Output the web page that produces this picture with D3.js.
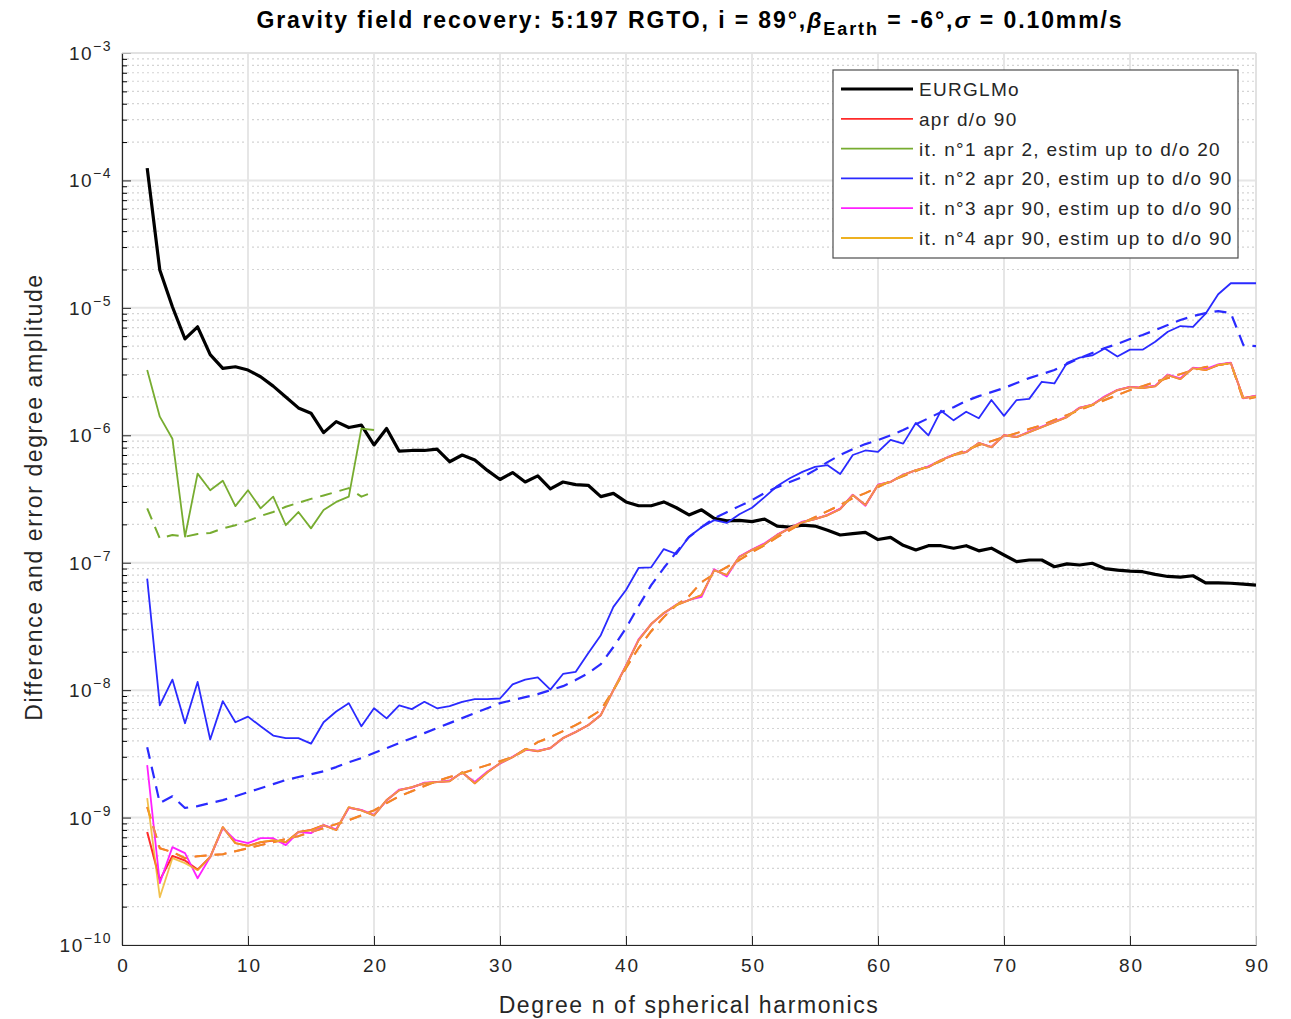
<!DOCTYPE html>
<html>
<head>
<meta charset="utf-8">
<script src="https://cdn.jsdelivr.net/npm/d3@7"></script>
<style>
  body { margin: 0; background: #fff; }
  text { font-family: "Liberation Sans", Arial, sans-serif; }
</style>
</head>
<body>
<div id="chart"></div>
<script>
// spherical harmonic degrees 2..90
const degrees = d3.range(2, 91);

// EURGLMo difference degree amplitude
const eurglmo = [1.25e-4, 1.98e-5, 1.02e-5, 5.7e-6, 7.1e-6, 4.3e-6, 3.35e-6, 3.45e-6, 3.25e-6, 2.88e-6,
  2.43e-6, 2.0e-6, 1.64e-6, 1.49e-6, 1.05e-6, 1.28e-6, 1.15e-6, 1.2e-6, 8.4e-7, 1.13e-6,
  7.5e-7, 7.6e-7, 7.6e-7, 7.8e-7, 6.2e-7, 7.0e-7, 6.4e-7, 5.3e-7, 4.5e-7, 5.1e-7,
  4.3e-7, 4.8e-7, 3.8e-7, 4.3e-7, 4.1e-7, 4.05e-7, 3.3e-7, 3.5e-7, 3.0e-7, 2.8e-7,
  2.8e-7, 3.0e-7, 2.7e-7, 2.37e-7, 2.6e-7, 2.23e-7, 2.13e-7, 2.15e-7, 2.1e-7, 2.2e-7,
  1.94e-7, 1.9e-7, 1.97e-7, 1.94e-7, 1.8e-7, 1.65e-7, 1.69e-7, 1.73e-7, 1.52e-7, 1.58e-7,
  1.37e-7, 1.26e-7, 1.36e-7, 1.36e-7, 1.3e-7, 1.36e-7, 1.24e-7, 1.3e-7, 1.15e-7, 1.02e-7,
  1.05e-7, 1.05e-7, 9.3e-8, 9.8e-8, 9.6e-8, 9.9e-8, 9.0e-8, 8.75e-8, 8.6e-8, 8.5e-8,
  8.1e-8, 7.8e-8, 7.7e-8, 7.9e-8, 6.95e-8, 6.95e-8, 6.9e-8, 6.8e-8, 6.67e-8];

// it. n°1 (degrees 2..20): difference and formal error
const it1Diff = [3.25e-6, 1.4e-6, 9.4e-7, 1.6e-7, 5.0e-7, 3.7e-7, 4.4e-7, 2.78e-7, 3.7e-7, 2.67e-7,
  3.3e-7, 1.97e-7, 2.5e-7, 1.86e-7, 2.59e-7, 3.0e-7, 3.3e-7, 1.13e-6, 1.1e-6];
const it1Err = [2.67e-7, 1.55e-7, 1.65e-7, 1.6e-7, 1.68e-7, 1.71e-7, 1.86e-7, 1.97e-7, 2.13e-7, 2.33e-7,
  2.5e-7, 2.75e-7, 2.95e-7, 3.17e-7, 3.37e-7, 3.6e-7, 3.85e-7, 3.3e-7, 3.6e-7];

// it. n°2
const it2Diff = [7.5e-8, 7.6e-9, 1.21e-8, 5.5e-9, 1.16e-8, 4.1e-9, 8.2e-9, 5.6e-9, 6.2e-9, 5.2e-9,
  4.4e-9, 4.2e-9, 4.2e-9, 3.8e-9, 5.6e-9, 6.8e-9, 7.9e-9, 5.2e-9, 7.2e-9, 6.0e-9,
  7.6e-9, 7.1e-9, 8.1e-9, 7.2e-9, 7.5e-9, 8.1e-9, 8.5e-9, 8.5e-9, 8.6e-9, 1.11e-8,
  1.21e-8, 1.26e-8, 1.01e-8, 1.34e-8, 1.39e-8, 1.95e-8, 2.7e-8, 4.5e-8, 6.1e-8, 9.1e-8,
  9.2e-8, 1.28e-7, 1.17e-7, 1.6e-7, 1.9e-7, 2.16e-7, 2.05e-7, 2.4e-7, 2.7e-7, 3.27e-7,
  4.0e-7, 4.6e-7, 5.16e-7, 5.65e-7, 5.83e-7, 4.96e-7, 7.0e-7, 7.6e-7, 7.4e-7, 9.2e-7,
  8.6e-7, 1.25e-6, 1.0e-6, 1.56e-6, 1.31e-6, 1.53e-6, 1.36e-6, 1.89e-6, 1.42e-6, 1.89e-6,
  1.93e-6, 2.63e-6, 2.55e-6, 3.7e-6, 4.07e-6, 4.23e-6, 4.8e-6, 4.15e-6, 4.7e-6, 4.7e-6,
  5.42e-6, 6.5e-6, 7.2e-6, 7.1e-6, 9.0e-6, 1.28e-5, 1.56e-5, 1.56e-5, 1.56e-5];
const it2Err = [3.57e-9, 1.3e-9, 1.47e-9, 1.19e-9, 1.23e-9, 1.3e-9, 1.37e-9, 1.47e-9, 1.58e-9, 1.7e-9,
  1.83e-9, 1.97e-9, 2.08e-9, 2.19e-9, 2.31e-9, 2.49e-9, 2.72e-9, 2.93e-9, 3.21e-9, 3.51e-9,
  3.84e-9, 4.2e-9, 4.6e-9, 5.03e-9, 5.51e-9, 6.03e-9, 6.6e-9, 7.22e-9, 7.91e-9, 8.35e-9,
  8.81e-9, 9.31e-9, 1.0e-8, 1.075e-8, 1.2e-8, 1.36e-8, 1.6e-8, 2.18e-8, 3.07e-8, 4.57e-8,
  6.67e-8, 9.08e-8, 1.21e-7, 1.59e-7, 1.9e-7, 2.24e-7, 2.49e-7, 2.78e-7, 3.1e-7, 3.52e-7,
  3.92e-7, 4.3e-7, 4.7e-7, 5.33e-7, 6.16e-7, 7.0e-7, 7.8e-7, 8.53e-7, 9.17e-7, 1.0e-6,
  1.1e-6, 1.22e-6, 1.36e-6, 1.52e-6, 1.66e-6, 1.86e-6, 2.03e-6, 2.18e-6, 2.35e-6, 2.57e-6,
  2.81e-6, 3.02e-6, 3.25e-6, 3.62e-6, 4.04e-6, 4.42e-6, 4.84e-6, 5.2e-6, 5.69e-6, 6.12e-6,
  6.7e-6, 7.33e-6, 8.02e-6, 8.63e-6, 9.1e-6, 9.44e-6, 9.1e-6, 5.1e-6, 5.0e-6];

// it. n°4 (and a priori d/o 90, nearly identical)
const it4Diff = [1.42e-9, 2.37e-10, 4.8e-10, 4.39e-10, 3.87e-10, 4.89e-10, 8.41e-10, 6.3e-10, 5.97e-10, 6.41e-10,
  6.65e-10, 6.41e-10, 7.69e-10, 7.97e-10, 8.71e-10, 7.97e-10, 1.21e-9, 1.14e-9, 1.04e-9, 1.37e-9,
  1.64e-9, 1.73e-9, 1.86e-9, 1.9e-9, 1.93e-9, 2.27e-9, 1.86e-9, 2.27e-9, 2.67e-9, 2.98e-9,
  3.44e-9, 3.32e-9, 3.51e-9, 4.2e-9, 4.69e-9, 5.31e-9, 6.37e-9, 1.0e-8, 1.55e-8, 2.47e-8,
  3.3e-8, 4.03e-8, 4.65e-8, 5.09e-8, 5.57e-8, 8.75e-8, 8.0e-8, 1.11e-7, 1.26e-7, 1.4e-7,
  1.65e-7, 1.87e-7, 2.08e-7, 2.2e-7, 2.36e-7, 2.64e-7, 3.4e-7, 2.83e-7, 4.07e-7, 4.3e-7,
  4.88e-7, 5.33e-7, 5.63e-7, 6.39e-7, 7.0e-7, 7.38e-7, 8.69e-7, 8.07e-7, 1.0e-6, 9.68e-7,
  1.06e-6, 1.16e-6, 1.27e-6, 1.39e-6, 1.64e-6, 1.73e-6, 2.0e-6, 2.26e-6, 2.39e-6, 2.35e-6,
  2.43e-6, 2.97e-6, 2.76e-6, 3.37e-6, 3.25e-6, 3.56e-6, 3.69e-6, 1.96e-6, 2.03e-6];
const it4Err = [1.21e-9, 5.75e-10, 5.36e-10, 4.8e-10, 4.98e-10, 5.07e-10, 5.16e-10, 5.45e-10, 5.75e-10, 6.08e-10,
  6.41e-10, 6.78e-10, 7.15e-10, 7.69e-10, 8.26e-10, 8.88e-10, 9.55e-10, 1.04e-9, 1.14e-9, 1.3e-9,
  1.47e-9, 1.61e-9, 1.77e-9, 1.93e-9, 2.08e-9, 2.23e-9, 2.4e-9, 2.58e-9, 2.77e-9, 2.98e-9,
  3.38e-9, 3.91e-9, 4.28e-9, 4.77e-9, 5.31e-9, 6.03e-9, 6.97e-9, 1.0e-8, 1.49e-8, 2.14e-8,
  2.9e-8, 3.74e-8, 4.65e-8, 5.47e-8, 7.05e-8, 8.15e-8, 9.24e-8, 1.05e-7, 1.21e-7, 1.37e-7,
  1.59e-7, 1.8e-7, 2.05e-7, 2.28e-7, 2.54e-7, 2.83e-7, 3.21e-7, 3.52e-7, 3.92e-7, 4.38e-7,
  4.79e-7, 5.24e-7, 5.73e-7, 6.28e-7, 7.0e-7, 7.66e-7, 8.38e-7, 9.0e-7, 9.68e-7, 1.04e-6,
  1.12e-6, 1.2e-6, 1.32e-6, 1.44e-6, 1.58e-6, 1.73e-6, 1.89e-6, 2.07e-6, 2.26e-6, 2.43e-6,
  2.62e-6, 2.81e-6, 3.02e-6, 3.25e-6, 3.43e-6, 3.56e-6, 3.69e-6, 1.89e-6, 2.0e-6];

// it. n°3 (low degrees differ, otherwise on top of it. n°4)
const it3Diff = [2.58e-9, 3.06e-10, 5.86e-10, 5.26e-10, 3.34e-10, 4.89e-10, 8.26e-10, 6.65e-10, 6.3e-10, 6.89e-10,
  6.89e-10, 6.08e-10, 7.69e-10, 7.55e-10, 8.71e-10, 8.1e-10, 1.19e-9, 1.15e-9, 1.05e-9, 1.36e-9,
  1.66e-9, 1.72e-9, 1.88e-9, 1.9e-9, 1.95e-9, 2.25e-9, 1.9e-9, 2.3e-9, 2.65e-9, 3.0e-9,
  3.4e-9, 3.35e-9, 3.5e-9, 4.2e-9, 4.7e-9, 5.3e-9, 6.4e-9, 1.0e-8, 1.56e-8, 2.5e-8,
  3.3e-8, 4.0e-8, 4.7e-8, 5.1e-8, 5.4e-8, 8.9e-8, 7.8e-8, 1.12e-7, 1.27e-7, 1.42e-7,
  1.66e-7, 1.87e-7, 2.1e-7, 2.2e-7, 2.38e-7, 2.66e-7, 3.42e-7, 2.8e-7, 4.1e-7, 4.3e-7,
  4.9e-7, 5.3e-7, 5.7e-7, 6.4e-7, 7.05e-7, 7.4e-7, 8.7e-7, 8.1e-7, 1.0e-6, 9.7e-7,
  1.07e-6, 1.17e-6, 1.28e-6, 1.4e-6, 1.65e-6, 1.74e-6, 2.02e-6, 2.27e-6, 2.4e-6, 2.37e-6,
  2.45e-6, 3.0e-6, 2.8e-6, 3.4e-6, 3.3e-6, 3.6e-6, 3.72e-6, 1.95e-6, 2.05e-6];

// a priori d/o 90
const aprDiff = [7.69e-10, 3.23e-10, 5.0e-10, 4.6e-10, 3.9e-10, 4.9e-10, 8.4e-10, 6.3e-10, 6.0e-10, 6.4e-10,
  6.6e-10, 6.4e-10, 7.7e-10, 8.0e-10, 8.7e-10, 8.0e-10, 1.2e-9, 1.14e-9, 1.04e-9, 1.37e-9,
  1.64e-9, 1.73e-9, 1.86e-9, 1.9e-9, 1.93e-9, 2.27e-9, 1.86e-9, 2.27e-9, 2.67e-9, 2.98e-9,
  3.44e-9, 3.32e-9, 3.51e-9, 4.2e-9, 4.69e-9, 5.31e-9, 6.37e-9, 1.0e-8, 1.55e-8, 2.47e-8,
  3.3e-8, 4.03e-8, 4.65e-8, 5.09e-8, 5.57e-8, 8.75e-8, 8.0e-8, 1.11e-7, 1.26e-7, 1.4e-7,
  1.65e-7, 1.87e-7, 2.08e-7, 2.2e-7, 2.36e-7, 2.64e-7, 3.4e-7, 2.83e-7, 4.07e-7, 4.3e-7,
  4.88e-7, 5.33e-7, 5.63e-7, 6.39e-7, 7.0e-7, 7.38e-7, 8.69e-7, 8.07e-7, 1.0e-6, 9.68e-7,
  1.06e-6, 1.16e-6, 1.27e-6, 1.39e-6, 1.64e-6, 1.73e-6, 2.0e-6, 2.26e-6, 2.39e-6, 2.35e-6,
  2.43e-6, 2.97e-6, 2.76e-6, 3.37e-6, 3.25e-6, 3.56e-6, 3.69e-6, 1.96e-6, 2.03e-6];

const xTicks = [0, 10, 20, 30, 40, 50, 60, 70, 80, 90];
const yExponents = [-3, -4, -5, -6, -7, -8, -9, -10];

const legendLabels = ["EURGLMo", "apr d/o 90", "it. n\u00b01 apr 2, estim up to d/o 20",
  "it. n\u00b02 apr 20, estim up to d/o 90", "it. n\u00b03 apr 90, estim up to d/o 90",
  "it. n\u00b04 apr 90, estim up to d/o 90"];
const legendColors = ["#000000", "#ff2a2a", "#77ac30", "#2a2aff", "#ff20ff", "#edb120"];

const width = 1291, height = 1019;
const margin = { left: 122, right: 35, top: 53, bottom: 74 };

const svg = d3.select('#chart').append('svg')
    .attr('width', width)
    .attr('height', height);

const x = d3.scaleLinear().domain([0, 90]).range([margin.left, width - margin.right]);
const y = d3.scaleLog().domain([1e-10, 1e-3]).range([height - margin.bottom, margin.top]);

// grid
const grid = svg.append('g');
const minors = [];
yExponents.slice(1).forEach(e => {
    for (let k = 2; k <= 9; k++) minors.push(k * Math.pow(10, e));
});
grid.selectAll('.ymin').data(minors).join('line')
    .attr('x1', x(0)).attr('x2', x(90))
    .attr('y1', d => y(d)).attr('y2', d => y(d))
    .attr('stroke', '#d4d4d4').attr('stroke-width', 1.2)
    .attr('stroke-dasharray', '2,3');
grid.selectAll('.ymaj').data(yExponents).join('line')
    .attr('x1', x(0)).attr('x2', x(90))
    .attr('y1', d => y(Math.pow(10, d))).attr('y2', d => y(Math.pow(10, d)))
    .attr('stroke', '#e6e6e6').attr('stroke-width', 2);
grid.selectAll('.xmaj').data(xTicks).join('line')
    .attr('x1', d => x(d)).attr('x2', d => x(d))
    .attr('y1', y(1e-3)).attr('y2', y(1e-10))
    .attr('stroke', '#e6e6e6').attr('stroke-width', 2);

// axes
const xAxis = svg.append('g')
    .attr('transform', `translate(0,${y(1e-10)})`)
    .call(d3.axisBottom(x).tickValues(xTicks).tickSize(-9).tickPadding(14).tickSizeOuter(0));
xAxis.selectAll('text').style('font-size', '19px').attr('fill', '#262626')
    .style('letter-spacing', '2px').attr('dx', 1)
    .style('font-family', '"Liberation Sans", Arial, sans-serif');

const yAxis = svg.append('g')
    .attr('transform', `translate(${x(0)},0)`)
    .call(d3.axisLeft(y).tickValues(yExponents.map(e => Math.pow(10, e)))
        .tickSize(-9).tickPadding(12).tickSizeOuter(0).tickFormat(''));
svg.append('g')
    .attr('transform', `translate(${x(0)},0)`)
    .call(d3.axisLeft(y).tickValues(minors).tickSize(-5).tickFormat('').tickSizeOuter(0))
    .select('.domain').remove();

[xAxis, yAxis].forEach(a => {
    a.select('.domain').attr('stroke', '#262626').attr('stroke-width', 1.2);
    a.selectAll('.tick line').attr('stroke', '#262626');
});

// y tick labels with exponent
const ylab = svg.append('g').attr('fill', '#262626');
yExponents.forEach(e => {
    const t = ylab.append('text')
        .attr('x', x(0) - 10)
        .attr('y', y(Math.pow(10, e)) + 7)
        .attr('text-anchor', 'end')
        .style('letter-spacing', '1.5px')
        .style('font-size', '19px');
    t.append('tspan').text('10');
    t.append('tspan').attr('dy', -9).style('font-size', '14px').text(String(e).replace('-', '\u2212'));
});

// box top/right
svg.append('line').attr('x1', x(0)).attr('x2', x(90)).attr('y1', y(1e-3)).attr('y2', y(1e-3))
    .attr('stroke', '#e0e0e0').attr('stroke-width', 1.5);
svg.append('line').attr('x1', x(90)).attr('x2', x(90)).attr('y1', y(1e-3)).attr('y2', y(1e-10))
    .attr('stroke', '#e0e0e0').attr('stroke-width', 1.5);

// curves
svg.append('clipPath').attr('id', 'clip').append('rect')
    .attr('x', x(0)).attr('y', y(1e-3)).attr('width', x(90) - x(0)).attr('height', y(1e-10) - y(1e-3));
const plot = svg.append('g').attr('clip-path', 'url(#clip)');

const line = d3.line().x(d => x(d[0])).y(d => y(d[1]));
const pairs = (vals) => vals.map((v, i) => [degrees[i], v]);

function draw(vals, color, w, dash, opacity) {
    plot.append('path')
        .datum(pairs(vals))
        .attr('d', line)
        .attr('fill', 'none')
        .attr('stroke', color)
        .attr('stroke-width', w)
        .attr('stroke-linejoin', 'round')
        .attr('stroke-dasharray', dash || null)
        .attr('opacity', opacity || 1);
}

draw(eurglmo, legendColors[0], 3.2);
draw(aprDiff, legendColors[1], 2);
draw(it4Err, legendColors[1], 2, '12,8');
draw(it1Diff, legendColors[2], 1.8);
draw(it1Err, legendColors[2], 2, '12,8');
draw(it2Diff, legendColors[3], 1.8);
draw(it2Err, legendColors[3], 2.2, '12,8');
draw(it3Diff, legendColors[4], 1.8);
draw(it4Diff, legendColors[5], 1.8, null, 0.8);
draw(it4Err, legendColors[5], 2, '12,8', 0.7);

// legend
const lg = svg.append('g').attr('transform', 'translate(833,70)');
lg.append('rect').attr('width', 405).attr('height', 188)
    .attr('fill', '#fff').attr('stroke', '#4d4d4d').attr('stroke-width', 1.2);
legendLabels.forEach((lab, i) => {
    const yy = 19 + i * 29.8;
    lg.append('line').attr('x1', 8).attr('x2', 80).attr('y1', yy).attr('y2', yy)
        .attr('stroke', legendColors[i]).attr('stroke-width', i === 0 ? 3.2 : 1.8);
    lg.append('text').attr('x', 86).attr('y', yy + 7)
        .attr('fill', '#262626').style('font-size', '19px')
        .style('letter-spacing', '1.3px').text(lab);
});

// title
const title = svg.append('text')
    .attr('x', 690).attr('y', 28)
    .attr('text-anchor', 'middle')
    .attr('fill', '#000')
    .style('font-size', '23px').style('font-weight', 'bold')
    .style('letter-spacing', '1.9px');
title.append('tspan').text('Gravity field recovery: 5:197 RGTO, i = 89\u00b0,');
title.append('tspan').style('font-style', 'italic').text('\u03b2');
title.append('tspan').attr('dy', 7).style('font-size', '18px').text('Earth');
title.append('tspan').attr('dy', -7).text(' = -6\u00b0,');
title.append('tspan').style('font-style', 'italic').text('\u03c3');
title.append('tspan').text(' = 0.10mm/s');

// axis labels
svg.append('text')
    .attr('x', 689).attr('y', 1013)
    .attr('text-anchor', 'middle').attr('fill', '#262626')
    .style('font-size', '23px').style('letter-spacing', '1.6px')
    .text('Degree n of spherical harmonics');
svg.append('text')
    .attr('transform', 'translate(42,497) rotate(-90)')
    .attr('text-anchor', 'middle').attr('fill', '#262626')
    .style('font-size', '23px').style('letter-spacing', '1.6px')
    .text('Difference and error degree amplitude');
</script>
</body>
</html>
